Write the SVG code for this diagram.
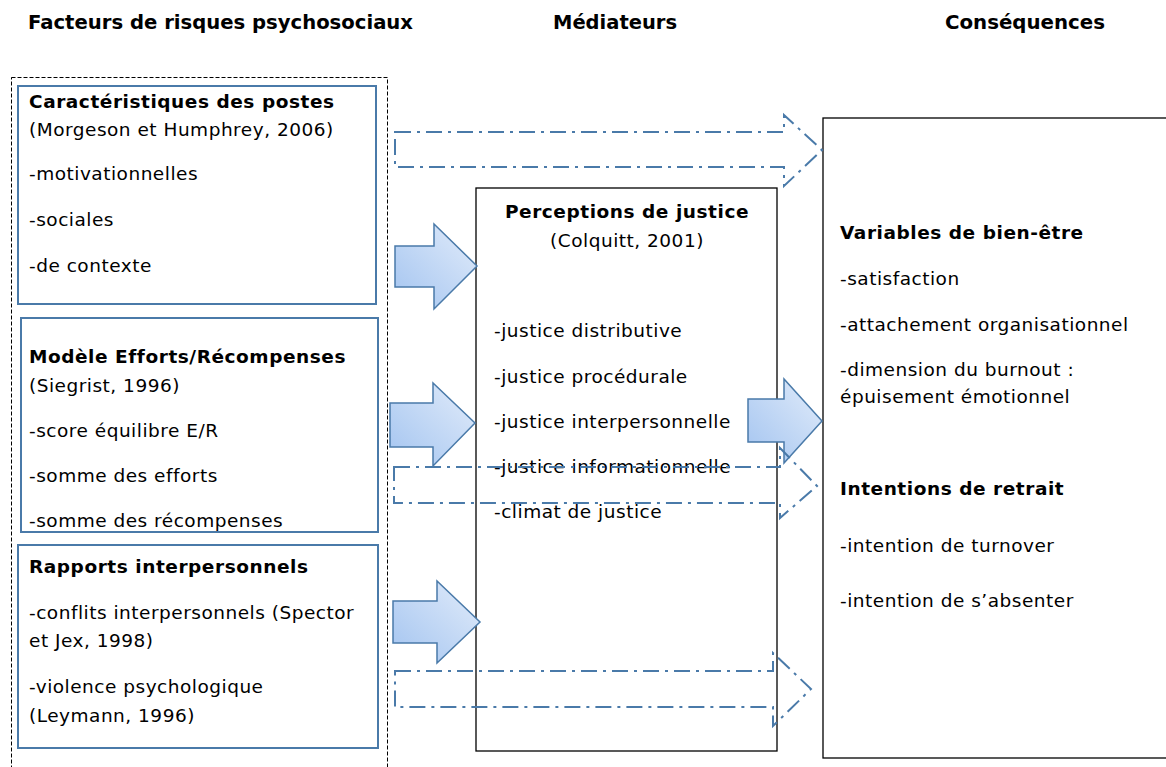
<svg xmlns="http://www.w3.org/2000/svg" width="1166" height="767" viewBox="0 0 1166 767">
  <defs>
    <linearGradient id="arrowFill" x1="0" y1="1" x2="1" y2="0">
      <stop offset="0" stop-color="#a3c4f0"/>
      <stop offset="1" stop-color="#e2ecfa"/>
    </linearGradient>
    <style>
      .t { font-family: "DejaVu Sans", Verdana, sans-serif; font-size: 18.5px; letter-spacing: 0.5px; fill: #000; }
      .b { font-weight: bold; letter-spacing: 0.55px; }
      .h { font-family: "DejaVu Sans", Verdana, sans-serif; font-size: 19.5px; font-weight: bold; fill: #000; }
      .blue { fill: #fff; stroke: #4a7aa9; stroke-width: 2; }
      .black { fill: #fff; stroke: #000; stroke-width: 1.3; }
      .outer { fill: none; stroke: #000; stroke-width: 1; stroke-dasharray: 4 2; }
      .solid { fill: url(#arrowFill); stroke: #4a7aa9; stroke-width: 1.5; stroke-linejoin: miter; }
      .dashdot { fill: none; stroke: #4a7aa9; stroke-width: 2; stroke-dasharray: 16 6 3 6; }
    </style>
  </defs>
  <rect width="1166" height="767" fill="#fff"/>

  <g id="headers">
    <text class="h" x="28" y="29" textLength="385" lengthAdjust="spacingAndGlyphs">Facteurs de risques psychosociaux</text>
    <text class="h" x="553" y="29" textLength="124" lengthAdjust="spacingAndGlyphs">Médiateurs</text>
    <text class="h" x="945" y="29" textLength="160" lengthAdjust="spacingAndGlyphs">Conséquences</text>
  </g>

  <g id="risk-group">
    <rect class="outer" x="11.5" y="77.5" width="376" height="720"/>
  </g>

  <g id="node-postes">
    <rect class="blue" x="18" y="86" width="358" height="218"/>
    <text class="t b" x="29" y="108">Caractéristiques des postes</text>
    <text class="t" x="29" y="136">(Morgeson et Humphrey, 2006)</text>
    <text class="t" x="29" y="180">-motivationnelles</text>
    <text class="t" x="29" y="226">-sociales</text>
    <text class="t" x="29" y="272">-de contexte</text>
  </g>

  <g id="node-efforts">
    <rect class="blue" x="21" y="318" width="357" height="214"/>
    <text class="t b" x="29" y="363">Modèle Efforts/Récompenses</text>
    <text class="t" x="29" y="392">(Siegrist, 1996)</text>
    <text class="t" x="29" y="437">-score équilibre E/R</text>
    <text class="t" x="29" y="482">-somme des efforts</text>
    <text class="t" x="29" y="527">-somme des récompenses</text>
  </g>

  <g id="node-rapports">
    <rect class="blue" x="18" y="545" width="360" height="203"/>
    <text class="t b" x="29" y="573">Rapports interpersonnels</text>
    <text class="t" x="29" y="619">-conflits interpersonnels (Spector</text>
    <text class="t" x="29" y="647">et Jex, 1998)</text>
    <text class="t" x="29" y="693">-violence psychologique</text>
    <text class="t" x="29" y="722">(Leymann, 1996)</text>
  </g>

  <g id="node-justice">
    <rect class="black" x="476" y="188" width="301" height="563"/>
    <text class="t b" x="627" y="218" text-anchor="middle">Perceptions de justice</text>
    <text class="t" x="627" y="247" text-anchor="middle">(Colquitt, 2001)</text>
    <text class="t" x="494" y="337">-justice distributive</text>
    <text class="t" x="494" y="383">-justice procédurale</text>
    <text class="t" x="494" y="428">-justice interpersonnelle</text>
    <text class="t" x="494" y="473">-justice informationnelle</text>
    <text class="t" x="494" y="518">-climat de justice</text>
  </g>

  <g id="node-consequences">
    <rect class="black" x="823" y="118" width="360" height="640"/>
    <text class="t b" x="840" y="239">Variables de bien-être</text>
    <text class="t" x="840" y="285">-satisfaction</text>
    <text class="t" x="840" y="331">-attachement organisationnel</text>
    <text class="t" x="840" y="376">-dimension du burnout :</text>
    <text class="t" x="840" y="403">épuisement émotionnel</text>
    <text class="t b" x="840" y="495">Intentions de retrait</text>
    <text class="t" x="840" y="552">-intention de turnover</text>
    <text class="t" x="840" y="607">-intention de s’absenter</text>
  </g>

  <g id="connectors">
    <path class="solid" d="M395,246 H434 V224 L477,266 L434,309 V287 H395 Z"/>
    <path class="solid" d="M390,403 H433 V383 L475,423 L433,466 V447 H390 Z"/>
    <path class="solid" d="M393,601 H437 V581 L480,622 L437,663 V643 H393 Z"/>
    <path class="solid" d="M748,399 H784 V379 L822,421 L784,463 V442 H748 Z"/>
    <path class="dashdot" d="M395,132 H784 V115 L822,150 L784,186 V167 H395 Z"/>
    <path class="dashdot" d="M394,467 H780 V448 L817,486 L780,518 V503 H394 Z"/>
    <path class="dashdot" d="M395,671 H773 V653 L811,689 L773,726 V707 H395 Z"/>
  </g>
</svg>
